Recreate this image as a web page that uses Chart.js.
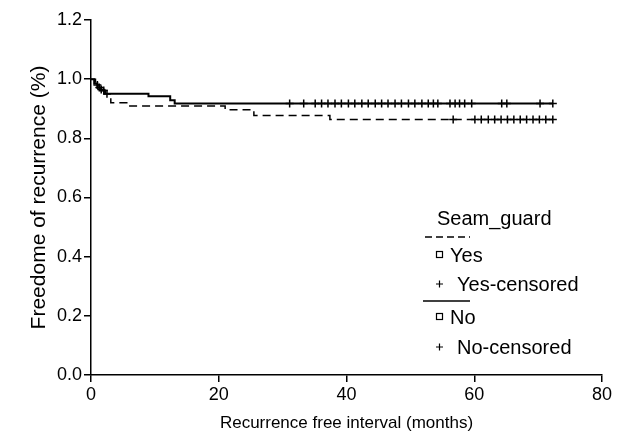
<!DOCTYPE html>
<html>
<head>
<meta charset="utf-8">
<script src="https://cdn.jsdelivr.net/npm/chart.js@4.4.1/dist/chart.umd.min.js"></script>
<style>
  body { margin: 0; background: #fff; }
  canvas { display: block; }
</style>
</head>
<body>
<canvas id="chart" width="625" height="443"></canvas>
<script>
// Kaplan-Meier curves
const xTicks = [0, 20, 40, 60, 80];
const yTicks = [0, 0.2, 0.4, 0.6, 0.8, 1.0, 1.2];

// Seam_guard = Yes (dashed): step times (months) and survival after each step
const yesTimes = [0, 0.7, 1.3, 2.0, 3.1, 5.6, 21.0, 25.5, 37.4, 72.3];
const yesSurv  = [1.0, 0.98, 0.965, 0.951, 0.92, 0.909, 0.897, 0.877, 0.864, 0.864];
const yesCensored = [1.0, 1.6, 2.5, 56.7, 60.1, 61.1, 62.2, 63.2, 64.2, 65.2,
  66.2, 67.2, 68.2, 69.2, 70.2, 71.2, 72.3];

// Seam_guard = No (solid)
const noTimes = [0, 0.5, 1.0, 1.6, 2.2, 9.0, 12.4, 13.1, 72.3];
const noSurv  = [1.0, 0.985, 0.972, 0.962, 0.951, 0.942, 0.929, 0.918, 0.918];
const noCensored = [1.3, 2.0, 31.1, 33.3, 35.1, 36.1, 37.1, 38.2, 39.2, 40.3,
  41.3, 42.4, 43.4, 44.5, 45.5, 46.5, 47.6, 48.6, 49.7, 50.7, 51.8, 52.8, 53.6,
  54.3, 56.2, 57.0, 57.7, 58.5, 59.6, 64.3, 65.1, 70.3, 72.3];

const legendTitle = 'Seam_guard';
const legendLabels = ['Yes', 'Yes-censored', 'No', 'No-censored'];

// survival value of a step curve at time t
function survAt(times, surv, t) {
  let s = surv[0];
  for (let i = 0; i < times.length; i++) {
    if (times[i] <= t) s = surv[i];
  }
  return s;
}

const toPoints = (xs, ys) => xs.map((x, i) => ({ x: x, y: ys[i] }));
const censorPoints = (cs, times, surv) => cs.map(t => ({ x: t, y: survAt(times, surv, t) }));

const FONT = '"Liberation Sans", Arial, sans-serif';

// legend drawn by hand, it has line samples between the entries
const kmLegend = {
  id: 'kmLegend',
  afterDraw(chart) {
    const ctx = chart.ctx;
    ctx.save();
    ctx.fillStyle = '#000';
    ctx.strokeStyle = '#000';
    ctx.font = '20px ' + FONT;
    ctx.textBaseline = 'middle';
    ctx.fillText(legendTitle, 437, 219);

    // dashed sample
    ctx.lineWidth = 1.5;
    ctx.setLineDash([7, 4]);
    ctx.beginPath();
    ctx.moveTo(425, 237);
    ctx.lineTo(470, 237);
    ctx.stroke();
    ctx.setLineDash([]);

    // solid sample
    ctx.beginPath();
    ctx.moveTo(423, 301);
    ctx.lineTo(470, 301);
    ctx.stroke();

    const rows = [256, 285, 318, 348];
    ctx.lineWidth = 1.2;
    rows.forEach((y, i) => {
      if (i % 2 === 0) {
        ctx.strokeRect(436.5, y - 4.5, 6, 6);
        ctx.fillText(legendLabels[i], 450, y);
      } else {
        ctx.beginPath();
        ctx.moveTo(436, y - 1);
        ctx.lineTo(443, y - 1);
        ctx.moveTo(439.5, y - 4.5);
        ctx.lineTo(439.5, y + 2.5);
        ctx.stroke();
        ctx.fillText(legendLabels[i], 457, y);
      }
    });
    ctx.restore();
  }
};

const ctx = document.getElementById('chart').getContext('2d');
new Chart(ctx, {
  type: 'scatter',
  data: {
    datasets: [
      {
        label: 'Yes',
        type: 'line',
        data: toPoints(yesTimes, yesSurv),
        stepped: true,
        borderColor: '#000',
        borderWidth: 1.5,
        borderDash: [8, 5],
        pointRadius: 0,
        fill: false
      },
      {
        label: 'No',
        type: 'line',
        data: toPoints(noTimes, noSurv),
        stepped: true,
        borderColor: '#000',
        borderWidth: 2,
        pointRadius: 0,
        fill: false
      },
      {
        label: 'Yes-censored',
        data: censorPoints(yesCensored, yesTimes, yesSurv),
        pointStyle: 'cross',
        pointRadius: 4,
        borderColor: '#000',
        borderWidth: 1.5
      },
      {
        label: 'No-censored',
        data: censorPoints(noCensored, noTimes, noSurv),
        pointStyle: 'cross',
        pointRadius: 4,
        borderColor: '#000',
        borderWidth: 1.5
      }
    ]
  },
  options: {
    responsive: false,
    animation: false,
    layout: { padding: { top: 20, right: 23, left: 0, bottom: 0 } },
    plugins: {
      legend: { display: false },
      tooltip: { enabled: false }
    },
    scales: {
      x: {
        type: 'linear',
        min: 0,
        max: 80,
        afterBuildTicks: (scale) => { scale.ticks = xTicks.map(v => ({ value: v })); },
        afterFit: (scale) => { scale.height = 68; },
        grid: { drawOnChartArea: false, drawTicks: true, tickLength: 7, color: '#000', lineWidth: 1.5 },
        border: { color: '#000', width: 1.5 },
        ticks: { color: '#000', padding: 2, font: { family: FONT, size: 18 } },
        title: {
          display: true,
          text: 'Recurrence free interval (months)',
          color: '#000',
          font: { family: FONT, size: 17 },
          padding: { top: 0, bottom: 9 }
        }
      },
      y: {
        min: 0,
        max: 1.2,
        afterBuildTicks: (scale) => { scale.ticks = yTicks.map(v => ({ value: v })); },
        afterFit: (scale) => { scale.width = 91; },
        grid: { drawOnChartArea: false, drawTicks: true, tickLength: 7, color: '#000', lineWidth: 1.5 },
        border: { color: '#000', width: 1.5 },
        ticks: {
          color: '#000',
          padding: 2,
          font: { family: FONT, size: 18 },
          callback: (v) => Number(v).toFixed(1)
        },
        title: {
          display: true,
          text: 'Freedome of recurrence (%)',
          color: '#000',
          font: { family: FONT, size: 21 },
          padding: { top: 27, bottom: 0 }
        }
      }
    }
  },
  plugins: [kmLegend]
});
</script>
</body>
</html>
